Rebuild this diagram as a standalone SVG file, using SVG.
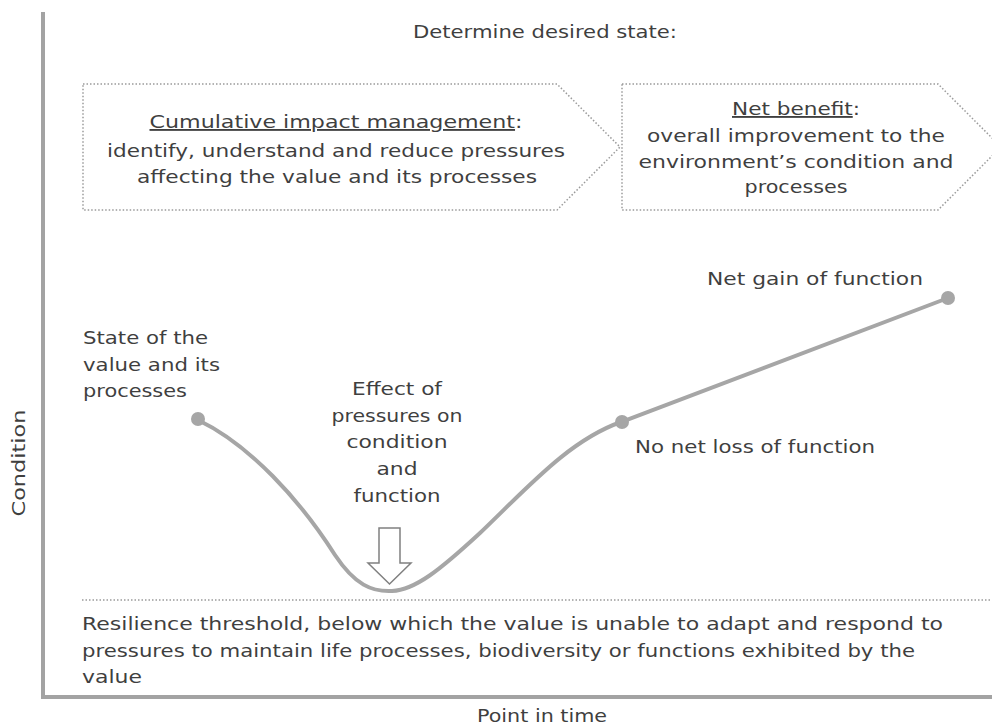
<svg xmlns="http://www.w3.org/2000/svg" width="992" height="726" viewBox="0 0 992 726">
<style>
text{font-family:"DejaVu Sans","Liberation Sans",sans-serif;font-size:18.5px;fill:#3f3f3f}
.c{text-anchor:middle}
.box{fill:#fff;stroke:#9a9a9a;stroke-width:1.5;stroke-dasharray:1.5 2}
.axis{stroke:#a3a3a3;stroke-width:4;fill:none}
.curve{stroke:#a6a6a6;stroke-width:4;fill:none;stroke-linecap:round}
.dot{fill:#a6a6a6}
</style>
<rect width="992" height="726" fill="#fff"/>
<g id="axes">
<path class="axis" d="M43,12 V697 H992"/>
<text class="c" x="542" y="722" textLength="130" lengthAdjust="spacingAndGlyphs">Point in time</text>
<text class="c" transform="translate(25,463) rotate(-90)" textLength="107" lengthAdjust="spacingAndGlyphs">Condition</text>
</g>
<text class="c" x="545" y="38" textLength="264" lengthAdjust="spacingAndGlyphs">Determine desired state:</text>
<g id="box-cumulative">
<polygon class="box" points="83,84 557,84 620,147 557,210 83,210"/>
<text class="c" x="336" y="128" textLength="373" lengthAdjust="spacingAndGlyphs"><tspan text-decoration="underline">Cumulative impact management</tspan>:</text>
<text class="c" x="336" y="157" textLength="458" lengthAdjust="spacingAndGlyphs">identify, understand and reduce pressures</text>
<text class="c" x="337" y="183" textLength="400" lengthAdjust="spacingAndGlyphs">affecting the value and its processes</text>
</g>
<g id="box-netbenefit">
<polygon class="box" points="622,84 938,84 1001,147 938,210 622,210"/>
<text class="c" x="796" y="115" textLength="128" lengthAdjust="spacingAndGlyphs"><tspan text-decoration="underline">Net benefit</tspan>:</text>
<text class="c" x="796" y="142" textLength="298" lengthAdjust="spacingAndGlyphs">overall improvement to the</text>
<text class="c" x="796" y="168" textLength="315" lengthAdjust="spacingAndGlyphs">environment’s condition and</text>
<text class="c" x="796" y="193" textLength="103" lengthAdjust="spacingAndGlyphs">processes</text>
</g>
<g id="connectors">
<path class="curve" d="M198,420 C250,445 300,500 335,555 C355,585 372,592 392,591 C415,590 440,570 480,533 C530,485 570,440 621,422 L948,298"/>
</g>
<g id="node-start">
<circle class="dot" cx="198" cy="419" r="7"/>
<text x="83" y="344" textLength="125" lengthAdjust="spacingAndGlyphs">State of the</text>
<text x="83" y="371" textLength="137" lengthAdjust="spacingAndGlyphs">value and its</text>
<text x="83" y="397" textLength="104" lengthAdjust="spacingAndGlyphs">processes</text>
</g>
<g id="node-effect">
<text class="c" x="397" y="395" textLength="90" lengthAdjust="spacingAndGlyphs">Effect of</text>
<text class="c" x="397" y="422" textLength="131" lengthAdjust="spacingAndGlyphs">pressures on</text>
<text class="c" x="397" y="448" textLength="101" lengthAdjust="spacingAndGlyphs">condition</text>
<text class="c" x="397" y="475" textLength="41" lengthAdjust="spacingAndGlyphs">and</text>
<text class="c" x="397" y="502" textLength="87" lengthAdjust="spacingAndGlyphs">function</text>
<polygon points="379,528 400,528 400,563 411,563 389.5,584 368,563 379,563" fill="#fff" stroke="#808080" stroke-width="1.5"/>
</g>
<g id="node-nonetloss">
<circle class="dot" cx="622" cy="422" r="7"/>
<text x="635" y="453" textLength="240" lengthAdjust="spacingAndGlyphs">No net loss of function</text>
</g>
<g id="node-netgain">
<circle class="dot" cx="948" cy="298" r="7"/>
<text x="707" y="285" textLength="216" lengthAdjust="spacingAndGlyphs">Net gain of function</text>
</g>
<g id="threshold">
<line x1="82" y1="600" x2="992" y2="600" stroke="#9a9a9a" stroke-width="1.5" stroke-dasharray="1.5 2"/>
<text x="82" y="630" textLength="861" lengthAdjust="spacingAndGlyphs">Resilience threshold, below which the value is unable to adapt and respond to</text>
<text x="82" y="657" textLength="833" lengthAdjust="spacingAndGlyphs">pressures to maintain life processes, biodiversity or functions exhibited by the</text>
<text x="82" y="683" textLength="60" lengthAdjust="spacingAndGlyphs">value</text>
</g>
</svg>
